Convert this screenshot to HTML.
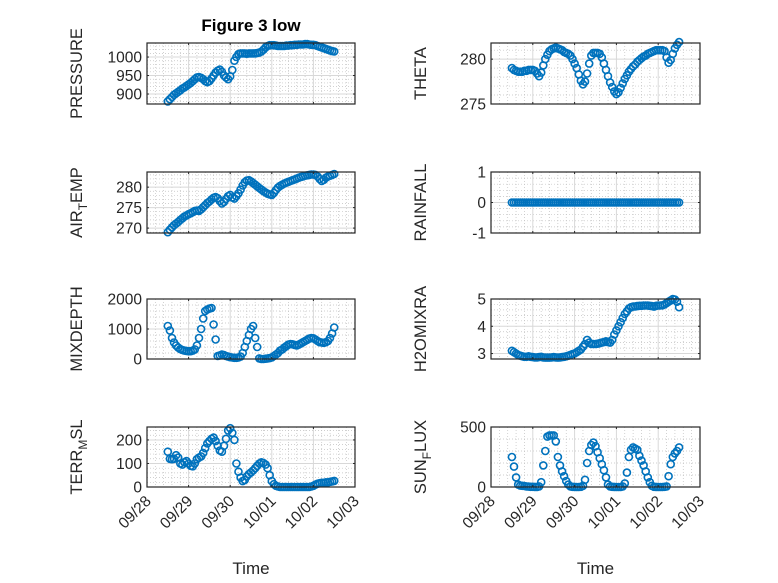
<!DOCTYPE html>
<html><head><meta charset="utf-8"><style>
body{margin:0;background:#fff;}
svg{display:block;font-family:"Liberation Sans",sans-serif;}
</style></head><body>
<svg id="fig" width="778" height="583" viewBox="0 0 778 583">
<rect width="778" height="583" fill="#fff"/>
<text x="251" y="31" text-anchor="middle" font-size="17" font-weight="bold" fill="#000">Figure 3 low</text>
</svg>
<script>
const times = [];
for (let i = 0; i <= 80; i++) times.push(0.5 + i * 0.05);
const dayLabels = ["09/28","09/29","09/30","10/01","10/02","10/03"];
const pressure = [880,886,892,898,902,906,910,915,918,922,926, 930,935,940,945,946,944,940,935,932, 935,942,950,958,963,966,960,950,945,940,948, 965,990,1000,1008,1010,1010,1010,1009,1010,1010, 1010,1010,1011,1012,1015,1020,1026,1030,1032,1032, 1032,1031,1030,1030,1030,1030,1031,1031,1032,1032, 1033,1033,1034,1034,1034,1035,1035,1034,1033,1033, 1032,1030,1028,1026,1024,1022,1020,1018,1016,1015];
const airTemp = [269,269.6,270.2,270.7,271.1,271.5,272,272.4,272.8,273.1,273.4, 273.6,273.9,274.2,274.3,274.2,274.6,275.1,275.6,276.1, 276.5,277,277.4,277.6,277.3,276.6,276,276.4,277.1,277.8,278.1, 277.5,277.2,277.8,278.5,279.4,280.4,281.2,281.6,281.7,281.4, 281,280.6,280.2,279.8,279.4,279,278.7,278.4,278.2,278.1, 278.6,279.3,279.9,280.3,280.6,280.9,281.1,281.3,281.5,281.7, 281.9,282.1,282.3,282.5,282.6,282.8,282.9,283,283.1,283.1, 283,282.6,282,281.5,281.8,282.3,282.6,282.8,283,283.2];
const theta = [279,278.8,278.7,278.6,278.6,278.6,278.7,278.7,278.8,278.8,278.8, 278.7,278.4,278.1,278.5,279.3,280,280.5,280.9,281.1, 281.2,281.3,281.2,281.1,281,280.8,280.7,280.6,280.4,280,279.5, 279,278.3,277.6,277.2,277.5,278.4,279.5,280.4,280.7,280.7, 280.7,280.6,280.2,279.5,278.8,278.1,277.4,276.9,276.4,276.1, 276.3,276.8,277.3,277.8,278.2,278.6,278.9,279.2,279.4,279.7, 279.9,280.1,280.3,280.4,280.6,280.7,280.8,280.9,281,281, 281,281,280.9,280.2,279.6,279.9,280.6,281.2,281.6,281.9];
const rainfall = [0,0,0,0,0,0,0,0,0,0,0, 0,0,0,0,0,0,0,0,0, 0,0,0,0,0,0,0,0,0,0,0, 0,0,0,0,0,0,0,0,0,0, 0,0,0,0,0,0,0,0,0,0, 0,0,0,0,0,0,0,0,0,0, 0,0,0,0,0,0,0,0,0,0, 0,0,0,0,0,0,0,0,0,0];
const mixDepth = [1100,950,700,550,450,380,330,300,280,270,260, 260,280,320,450,700,1000,1350,1600,1650, 1680,1700,1150,650,100,120,150,130,100,80,60, 50,40,40,50,80,200,400,600,800,1000, 1100,700,400,20,0,0,10,20,30,50, 100,150,200,280,320,380,430,480,500,490, 470,450,480,520,560,600,640,680,700,690, 650,600,560,550,540,560,600,700,850,1050];
const h2oMix = [3.1,3.05,3.0,2.95,2.92,2.9,2.88,2.88,2.9,2.88,2.87, 2.86,2.86,2.87,2.88,2.86,2.85,2.85,2.85,2.86, 2.87,2.86,2.85,2.86,2.87,2.88,2.9,2.92,2.95,2.98,3.0, 3.05,3.1,3.15,3.25,3.35,3.5,3.4,3.35,3.35,3.35, 3.36,3.38,3.4,3.42,3.45,3.42,3.4,3.5,3.7,3.85, 4.0,4.15,4.3,4.45,4.55,4.65,4.7,4.72,4.73,4.74, 4.75,4.75,4.76,4.76,4.76,4.75,4.74,4.72,4.75,4.76, 4.76,4.77,4.8,4.85,4.9,4.95,5.0,4.98,4.9,4.7];
const terrMsl = [150,120,118,120,135,125,100,95,105,110,100, 90,88,100,118,125,130,145,165,185, 195,205,210,195,175,155,150,175,205,240,250, 230,200,100,65,40,25,30,45,55,62, 70,80,90,100,105,102,95,80,50,25, 12,5,2,0,0,0,0,0,0,0, 0,0,0,0,0,0,0,0,2,5, 10,14,16,18,18,20,20,22,24,26];
const sunFlux = [250,170,80,20,12,10,8,5,3,2,2, 1,1,5,40,180,300,420,430,430, 430,380,250,180,130,90,50,20,5,2,1, 0,0,2,10,60,200,300,350,370,340, 290,240,190,140,80,20,5,2,1,0, 0,0,5,30,120,250,310,330,320,310, 260,220,180,130,80,40,10,2,1,0, 0,0,2,5,90,190,250,280,300,330];

const NS = "http://www.w3.org/2000/svg";
const svg = document.getElementById("fig");
function mk(tag, attrs, parent) {
  const e = document.createElementNS(NS, tag);
  for (const k in attrs) e.setAttribute(k, attrs[k]);
  (parent || svg).appendChild(e);
  return e;
}
const panels = [
  {key:"pressure", data:pressure, x0:147, x1:355, y0:43, y1:104, ymin:873, ymax:1038, ticks:[900,950,1000], minor:10, label:["PRESSURE"]},
  {key:"theta", data:theta, x0:491, x1:700, y0:43, y1:104, ymin:275, ymax:281.8, ticks:[275,280], minor:1, label:["THETA"]},
  {key:"air-temp", data:airTemp, x0:147, x1:355, y0:172, y1:233, ymin:268.8, ymax:283.7, ticks:[270,275,280], minor:1, label:["AIR","T","EMP"]},
  {key:"rainfall", data:rainfall, x0:491, x1:700, y0:172, y1:233, ymin:-1, ymax:1, ticks:[-1,0,1], minor:0.2, label:["RAINFALL"]},
  {key:"mixdepth", data:mixDepth, x0:147, x1:355, y0:299, y1:359, ymin:0, ymax:2000, ticks:[0,1000,2000], minor:200, label:["MIXDEPTH"]},
  {key:"h2omixra", data:h2oMix, x0:491, x1:700, y0:299, y1:359, ymin:2.8, ymax:5, ticks:[3,4,5], minor:0.2, label:["H2OMIXRA"]},
  {key:"terr-msl", data:terrMsl, x0:147, x1:355, y0:427, y1:487, ymin:0, ymax:255, ticks:[0,100,200], minor:20, label:["TERR","M","SL"]},
  {key:"sun-flux", data:sunFlux, x0:491, x1:700, y0:427, y1:487, ymin:0, ymax:500, ticks:[0,500], minor:100, label:["SUN","F","LUX"]}
];
panels.forEach((p, pi) => {
  const g = mk("g", {});
  
  
  const xs = t => p.x0 + (t / 5) * (p.x1 - p.x0);
  const ys = v => p.y1 - (v - p.ymin) / (p.ymax - p.ymin) * (p.y1 - p.y0);
  const clipId = "clip" + pi;
  const cp = mk("clipPath", {id: clipId}, g);
  mk("rect", {x:p.x0, y:p.y0 - 6, width:p.x1 - p.x0 + 6, height:p.y1 - p.y0 + 12}, cp);
  for (let t = 0.2; t < 5; t += 0.2) {
    if (Math.abs(t - Math.round(t)) < 0.01) continue;
    mk("line", {x1:xs(t), x2:xs(t), y1:p.y0, y2:p.y1, stroke:"#c0c0c0", "stroke-width":0.7, "stroke-dasharray":"1 2"}, g);
  }
  const first = Math.ceil(p.ymin / p.minor) * p.minor;
  for (let v = first; v <= p.ymax + 1e-9; v += p.minor) {
    if (p.ticks.some(tk => Math.abs(tk - v) < p.minor * 0.01)) continue;
    mk("line", {x1:p.x0, x2:p.x1, y1:ys(v), y2:ys(v), stroke:"#c0c0c0", "stroke-width":0.7, "stroke-dasharray":"1 2"}, g);
  }
  for (let d = 1; d < 5; d++) mk("line", {x1:xs(d), x2:xs(d), y1:p.y0, y2:p.y1, stroke:"#d8d8d8", "stroke-width":1}, g);
  p.ticks.forEach(v => {
    mk("line", {x1:p.x0, x2:p.x1, y1:ys(v), y2:ys(v), stroke:"#d8d8d8", "stroke-width":1}, g);
  });
  const dg = mk("g", {"clip-path":"url(#" + clipId + ")"}, g);
  p.data.forEach((v, i) => {
    const c = mk("circle", {cx:xs(times[i]).toFixed(1), cy:ys(v).toFixed(1), r:3.5, fill:"none", stroke:"#0072BD", "stroke-width":1.6}, dg);
    
    
  });
  mk("rect", {x:p.x0, y:p.y0, width:p.x1 - p.x0, height:p.y1 - p.y0, fill:"none", stroke:"#262626", "stroke-width":1.2}, g);
  for (let d = 0; d <= 5; d++) {
    mk("line", {x1:xs(d), x2:xs(d), y1:p.y1, y2:p.y1 - 2, stroke:"#262626"}, g);
    mk("line", {x1:xs(d), x2:xs(d), y1:p.y0, y2:p.y0 + 2, stroke:"#262626"}, g);
  }
  p.ticks.forEach(v => {
    mk("line", {x1:p.x0, x2:p.x0 + 2, y1:ys(v), y2:ys(v), stroke:"#262626"}, g);
    mk("line", {x1:p.x1, x2:p.x1 - 2, y1:ys(v), y2:ys(v), stroke:"#262626"}, g);
    const t = mk("text", {x:p.x0 - 5, y:ys(v) + 5.5, "text-anchor":"end", "font-size":15.5, fill:"#262626"}, g);
    t.textContent = String(v);
    
    
  });
  const lx = p.x0 - 65;
  const ly = (p.y0 + p.y1) / 2;
  const yl = mk("text", {x:lx, y:ly, transform:"rotate(-90 " + lx + " " + ly + ")", "text-anchor":"middle", "font-size":16.5, fill:"#262626"}, g);
  
  
  if (p.label.length === 1) {
    yl.textContent = p.label[0];
  } else {
    const a = mk("tspan", {}, yl); a.textContent = p.label[0];
    const b = mk("tspan", {dy:5, "font-size":12}, yl); b.textContent = p.label[1];
    const c = mk("tspan", {dy:-5}, yl); c.textContent = p.label[2];
  }
  if (pi >= 6) {
    dayLabels.forEach((lab, d) => {
      const tx = xs(d) + 5, ty = p.y1 + 15;
      const t = mk("text", {x:tx, y:ty, transform:"rotate(-45 " + tx + " " + ty + ")", "text-anchor":"end", "font-size":15.5, fill:"#262626"}, g);
      t.textContent = lab;
      
      
    });
    const xt = mk("text", {x:(p.x0 + p.x1) / 2, y:574, "text-anchor":"middle", "font-size":17, fill:"#262626"}, g);
    xt.textContent = "Time";
    
    
  }
});
</script>
</body></html>
